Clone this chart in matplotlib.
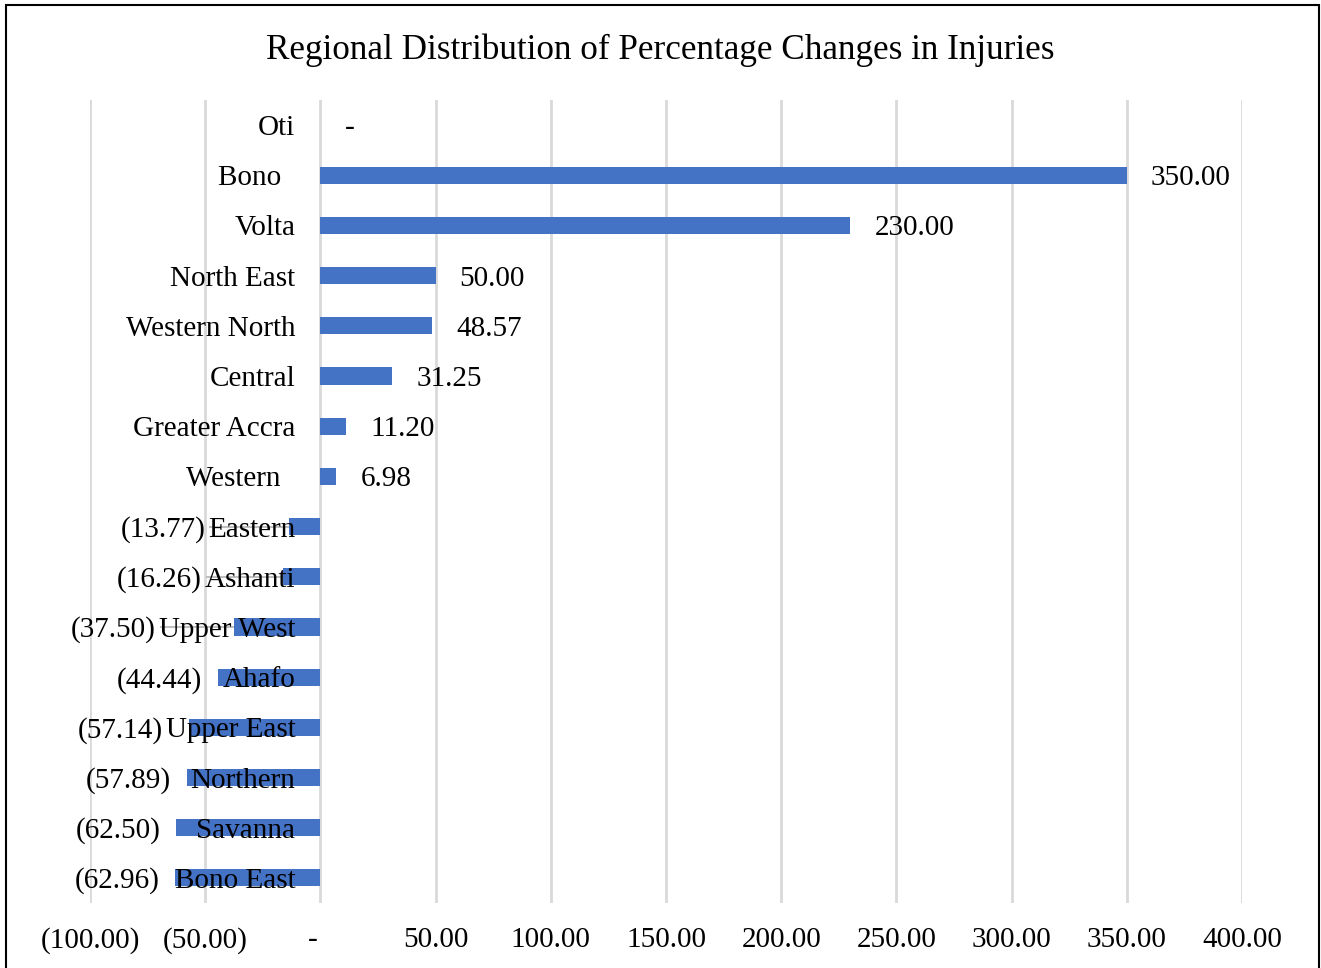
import numpy as np
import matplotlib.pyplot as plt
from matplotlib.patches import Rectangle

regions = ["Oti", "Bono  ", "Volta", "North East", "Western North", "Central",
           "Greater Accra", "Western  ", "Eastern", "Ashanti", "Upper West",
           "Ahafo", "Upper East", "Northern", "Savanna", "Bono East"]
changes = [0.00, 350.00, 230.00, 50.00, 48.57, 31.25, 11.20, 6.98, -13.77, -16.26,
           -37.50, -44.44, -57.14, -57.89, -62.50, -62.96]
xticks = [-100, -50, 0, 50, 100, 150, 200, 250, 300, 350, 400]
title = "Regional Distribution of Percentage Changes in Injuries"


def fmt(v):
    # excel style: #,##0.00;(#,##0.00);-
    if abs(v) < 1e-9:
        return "-"
    if v < 0:
        return f"({-v:,.2f})"
    return f"{v:,.2f}"


plt.rcParams['font.family'] = ['Liberation Serif', 'DejaVu Serif']
fs = 21

W, H = 1321, 968
fig = plt.figure(figsize=(W / 100, H / 100), dpi=100)
ax = fig.add_axes([90 / W, 1 - 903 / H, (1242 - 90) / W, (903 - 100) / H])

y = np.arange(len(regions))
for xt in xticks:
    ax.axvline(xt, color='#D9D9D9', lw=2, zorder=0)
ax.barh(y, changes, height=0.34, color='#4472C4', zorder=2)
ax.set_xlim(-100, 400)
ax.set_ylim(len(regions) - 0.5, -0.5)
ax.set_xticks(xticks)
# excel pads the zero dash on the right
ax.set_xticklabels([fmt(v) if v else "-  " for v in xticks])
for s in ax.spines.values():
    s.set_visible(False)
ax.spines['left'].set_position(('data', 0))
ax.set_yticks(y)
ax.set_yticklabels(regions)
ax.tick_params(axis='y', length=0, pad=18, labelsize=fs)
ax.tick_params(axis='x', length=0, pad=17, labelsize=fs)
ax.yaxis.set_zorder(5)

fig.text(0.5, 1 - 50 / H, title, ha='center', va='center', fontsize=25.3)

# data labels
fig.canvas.draw()
r = fig.canvas.get_renderer()
inv = ax.transData.inverted()
for yi, v, tl in zip(y, changes, ax.get_yticklabels()):
    xb, yd = ax.transData.transform((v, yi))
    if v >= 0:
        ax.annotate(fmt(v), (v, yi), xytext=(24 * 0.72, -3 * 0.72), textcoords='offset points',
                    ha='left', va='center', fontsize=fs, zorder=6)
    else:
        left = tl.get_window_extent(r).x0
        xr = min(xb - 16, left - 3)
        ax.annotate(fmt(v), (v, yi), xytext=((xr - xb) * 0.72, -3 * 0.72), textcoords='offset points',
                    ha='right', va='center', fontsize=fs, zorder=6)
        if xb - xr > 30:
            x0 = inv.transform((xr + 5, yd))[0]
            ax.plot([x0, v], [yi, yi], color='#BFBFBF', lw=1.5, zorder=1)

fig.add_artist(Rectangle((6 / W, -0.01), (1319 - 6) / W, 1 - 5 / H + 0.01,
                         transform=fig.transFigure, fill=False, ec='black', lw=1.5))

fig.savefig('out.png', dpi=100)
